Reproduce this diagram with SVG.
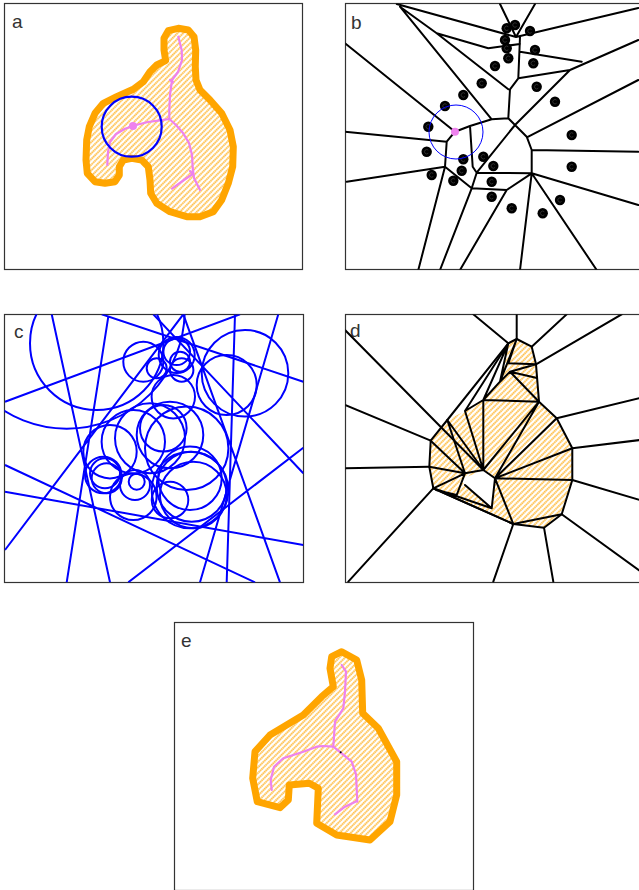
<svg xmlns="http://www.w3.org/2000/svg" xmlns:xlink="http://www.w3.org/1999/xlink" width="639" height="890" viewBox="0 0 639 890">
<style>
.frame{fill:none;stroke:#333;stroke-width:1.2}
.lbl{font-family:"Liberation Sans","DejaVu Sans",sans-serif;font-size:19px;fill:#333}
.blob{fill:url(#hatch);stroke:#FFA500;stroke-width:7;stroke-linejoin:round}
.skel{fill:none;stroke:#EE82EE;stroke-width:2.2;stroke-linejoin:round;stroke-linecap:round}
.blk{fill:none;stroke:#000;stroke-width:2;stroke-linecap:round;stroke-linejoin:round}
.blu{fill:none;stroke:#0000FF;stroke-width:2}
</style>
<defs>
<pattern id="hatch" width="4" height="4" patternUnits="userSpaceOnUse" patternTransform="rotate(45)">
<rect width="4" height="4" fill="#fff"/>
<line x1="1" y1="0" x2="1" y2="4" stroke="#FFA500" stroke-width="1.6" stroke-opacity="0.85" stroke-dasharray="1.4 0.6"/>
</pattern>
<g id="dot"><circle r="5.2" fill="#000"/><path d="M1.6,-1.5 A2.2,2.2 0 1 0 1.6,1.5" fill="none" stroke="#3a3a3a" stroke-width="0.8"/></g>
<clipPath id="cb"><rect x="345.5" y="3.5" width="298" height="266"/></clipPath>
<clipPath id="cc"><rect x="4.5" y="314.5" width="299" height="268"/></clipPath>
<clipPath id="cd"><rect x="345.5" y="314.5" width="298" height="268"/></clipPath>
</defs>
<rect width="639" height="890" fill="#fff"/>

<g id="panel-a">
<rect class="frame" x="4.5" y="3.5" width="298" height="266"/>
<text class="lbl" x="12" y="28">a</text>
<polygon class="blob" points="178.3,28.3 188.3,30 194,36.7 195.7,50 195.3,66.7 196,80 200,90 210,100 221.7,113.3 230,130 233.3,146.7 232.7,166.7 228.3,183.3 221.7,200 213.3,211.7 200,216.7 186.7,216.7 170,211.7 156.7,203.3 150.7,193.3 150,180 148.3,166.7 141.7,160 131.7,158.3 123.3,160 119.3,166.7 119.3,175 115,181.7 105,183.3 95,181.7 87.3,173.3 86,160 86.7,140 89.3,126.7 95,113.3 103.3,103.3 116.7,96.7 133.3,89.3 143.3,81.7 150,71.7 156.7,65 165.7,60.7 164,50 164,38.3 168.3,30.7"/>
<polyline class="skel" points="178.3,36.7 181.7,50 182,60 178,72 172,80 170,95 169.3,110 169.3,119"/>
<polyline class="skel" points="170,80 173,82"/>
<polyline class="skel" points="169.3,119 160,120.3 148,122 136,125 125,128.7 116,134 110,142 108,152 107.3,165"/>
<polyline class="skel" points="169.3,119 176,125 183,133 189,143 192,155 192.7,168 194,178 200,190"/>
<polyline class="skel" points="192.7,174 184,180 172,188.7"/>
<polyline class="skel" points="192.5,174 190,171"/>
<circle cx="133" cy="126" r="4" fill="#EE82EE"/>
<circle cx="131.7" cy="126.7" r="30" fill="none" stroke="#0000FF" stroke-width="2.2"/>
</g>

<g id="panel-b">
<rect class="frame" x="345.5" y="3.5" width="298" height="266"/>
<text class="lbl" x="351" y="29">b</text>
<g id="b-edges" clip-path="url(#cb)">
<path class="blk" d="M396.7,4 L516,37 M400,6.7 L491.7,119.3 M400,6.7 L436.7,33.3 M436.7,33.3 L508.3,89.3 M436.7,33.3 L488.3,48.3 L520,44 M500,4 L516,37 M535,4 L516,37 M516,37 L638.3,8 M520,37 L518.3,78.3 M520,51.7 L581.7,61.7 M570,70 L638.3,40 M570,70 L518.3,78.3 L510,89.3 L508.3,118.3 L491.7,119.3 L470,126 L455,131.7 L446.7,141.7 M345,43.3 L455,131.7 M446.7,141.7 L345,131.7 M446.7,141.7 L445,166.7 L346.7,181.7 M445,166.7 L418.3,270 M445,166.7 L471.7,188.3 L440,270 M471.7,188.3 L476.7,172.7 M471.7,188.3 L506.7,190 M470,126 L472.7,166.7 L476.7,172.7 L515,125 M476.7,172.7 L531.7,173.3 M506.7,190 L531.7,173.3 M506.7,190 L460,270 M508.3,118.3 L515,125 L570,70 M515,125 L526.7,136.7 L531.7,150 L531.7,173.3 M528.3,136.7 L638.3,80 M531.7,150 L638.3,151.7 M531.7,173.3 L638.3,205 M531.7,173.3 L596.7,270 M531.7,173.3 L520,270"/>
</g>
<g id="b-sites">
<use xlink:href="#dot" x="506.7" y="28.3"/><use xlink:href="#dot" x="515" y="25"/><use xlink:href="#dot" x="530" y="31"/><use xlink:href="#dot" x="505" y="40"/><use xlink:href="#dot" x="506.7" y="48.3"/><use xlink:href="#dot" x="508.3" y="58.3"/><use xlink:href="#dot" x="535" y="50"/><use xlink:href="#dot" x="533.3" y="63.3"/><use xlink:href="#dot" x="495" y="66"/><use xlink:href="#dot" x="481.7" y="83.3"/><use xlink:href="#dot" x="536.7" y="86.7"/><use xlink:href="#dot" x="463.3" y="95"/><use xlink:href="#dot" x="555" y="101.7"/><use xlink:href="#dot" x="445" y="106"/><use xlink:href="#dot" x="428.3" y="126.7"/><use xlink:href="#dot" x="571.7" y="135"/><use xlink:href="#dot" x="426.7" y="151.7"/><use xlink:href="#dot" x="463.3" y="159.3"/><use xlink:href="#dot" x="483.3" y="156.7"/><use xlink:href="#dot" x="493.3" y="166"/><use xlink:href="#dot" x="461.7" y="170.7"/><use xlink:href="#dot" x="431.7" y="175"/><use xlink:href="#dot" x="453.3" y="180.7"/><use xlink:href="#dot" x="491.7" y="181.7"/><use xlink:href="#dot" x="571.7" y="166.7"/><use xlink:href="#dot" x="491.7" y="196.7"/><use xlink:href="#dot" x="511.7" y="208.3"/><use xlink:href="#dot" x="560" y="200"/><use xlink:href="#dot" x="542.7" y="213.3"/>
</g>
<circle cx="456" cy="132" r="27" fill="none" stroke="#0000FF" stroke-width="1"/>
<circle cx="455" cy="131.7" r="4" fill="#EE82EE"/>
</g>

<g id="panel-c">
<rect class="frame" x="4.5" y="314.5" width="299" height="268"/>
<text class="lbl" x="14" y="338">c</text>
<g clip-path="url(#cc)">
<path class="blu" d="M5,401.7 L240,314.3 M51.7,314.3 L110,582.3 M108.3,316.7 L66.7,582.3 M101.7,314.3 L303.3,381.7 M5,465 L255,582.3 M5,491.7 L303.3,545 M5,550 L183.3,314.3 M153.3,314.3 L303.3,473.3 M128.3,582.3 L303.3,447.7 M200,582.3 L278.3,314.3 M226.7,582.3 L235,314.3 M280,582.3 L183.3,314.3"/>
<circle class="blu" cx="96.7" cy="343.3" r="66.7"/>
<circle class="blu" cx="66.7" cy="310.7" r="118"/>
<circle class="blu" cx="245" cy="373.3" r="43.3"/>
<circle class="blu" cx="226.7" cy="385" r="30"/>
<circle class="blu" cx="143.3" cy="361.7" r="20"/>
<circle class="blu" cx="176.7" cy="351.7" r="13.3"/>
<circle class="blu" cx="180" cy="361.7" r="10"/>
<circle class="blu" cx="181.7" cy="370" r="11.7"/>
<circle class="blu" cx="156.7" cy="368.3" r="10"/>
<circle class="blu" cx="176.7" cy="355" r="18"/>
<circle class="blu" cx="173.3" cy="396.7" r="21.7"/>
<circle class="blu" cx="110" cy="451.7" r="26.7"/>
<circle class="blu" cx="133.3" cy="441.7" r="31.7"/>
<circle class="blu" cx="150" cy="438.3" r="35"/>
<circle class="blu" cx="170" cy="435" r="33.3"/>
<circle class="blu" cx="186.7" cy="448.3" r="41.7"/>
<circle class="blu" cx="163.3" cy="428.3" r="23.3"/>
<circle class="blu" cx="103.3" cy="475" r="18.3"/>
<circle class="blu" cx="105" cy="473.3" r="15"/>
<circle class="blu" cx="106.7" cy="478.3" r="15"/>
<circle class="blu" cx="135" cy="485" r="15"/>
<circle class="blu" cx="133.3" cy="496.7" r="23.3"/>
<circle class="blu" cx="136.7" cy="481.7" r="8"/>
<circle class="blu" cx="170" cy="500" r="18.3"/>
<circle class="blu" cx="190" cy="490" r="38.3"/>
<circle class="blu" cx="191.7" cy="486.7" r="35"/>
<circle class="blu" cx="190" cy="478.3" r="31.7"/>
<circle class="blu" cx="193.3" cy="495" r="33.3"/>
</g>
</g>

<g id="panel-d">
<rect class="frame" x="345.5" y="314.5" width="298" height="268"/>
<text class="lbl" x="350" y="337">d</text>
<g clip-path="url(#cd)">
<polygon points="516.7,339 531.7,346.7 536,364.3 539,401.7 556.7,418.3 572.3,448.3 572.3,480 561.7,514.3 544,527.7 513.3,524 433.3,488.3 429.3,466.7 430.7,440.7 447.3,420 508.3,343.3" fill="url(#hatch)"/>
<polygon points="508.3,343.3 447.3,420 465,411 483.3,400 500,381.7" fill="#fff"/>
<polygon points="483.3,470 495,478.3 491.7,508.3 470,490 460,480" fill="#fff"/>
<path class="blk" d="M345,330 L483.3,470 M345,405 L430.7,440.7 M345,468.3 L429.3,466.7 M348.3,581.7 L433.3,488.3 M493.3,581.7 L513.3,524 M553.3,581.7 L544,527.7 M640,571 L561.7,514.3 M640,500 L572.3,480 M640,440 L572.3,448.3 M640,398 L556.7,418.3 M621.7,314.3 L536,364.3 M566.7,314.3 L531.7,346.7 M516.7,314.3 L516.7,339 M473.3,314.3 L508.3,343.3"/>
<polygon class="blk" points="516.7,339 531.7,346.7 536,364.3 539,401.7 556.7,418.3 572.3,448.3 572.3,480 561.7,514.3 544,527.7 513.3,524 433.3,488.3 429.3,466.7 430.7,440.7 447.3,420 508.3,343.3"/>
<path class="blk" d="M508.3,343.3 L465,411 M508.3,343.3 L483.3,400 M508.3,343.3 L500,381.7 M516.7,339 L500,381.7 M516.7,339 L508.3,363.3 M508.3,363.3 L536,364.3 M510,371.7 L536,364.3 M510,371.7 L537,378 M500,381.7 L510,371.7 L539,401.7 M500,381.7 L483.3,400 M483.3,400 L539,401.7 M483.3,400 L465,411 M483.3,400 L483.3,470 M465,411 L483.3,470 M447.3,420 L465,473.3 M447.3,420 L483.3,470 M430.7,440.7 L465,473.3 M429.3,466.7 L465,473.3 M433.3,488.3 L465,473.3 L483.3,470 L495,478.3 M483.3,470 L539,401.7 M495,478.3 L539,401.7 M495,478.3 L556.7,418.3 M495,478.3 L572.3,448.3 M495,478.3 L572.3,480 M495,478.3 L513.3,524 M495,478.3 L491.7,508.3 M433.3,488.3 L513.3,524 M433.3,488.3 L491.7,508.3 M436,490 L456.7,495 M465,473.3 L456.7,495 M465,485 L491.7,508.3 M513.3,524 L561.7,514.3"/>
</g>
</g>

<g id="panel-e">
<rect class="frame" x="174.5" y="622.5" width="299" height="268"/>
<text class="lbl" x="181" y="647">e</text>
<polygon class="blob" stroke-linejoin="miter" points="341.7,651.7 356.7,660 361.7,680 362.7,713.3 378.3,728.3 396.7,761.7 396.7,795 390,821.7 370,840 336.7,835 316.7,823.3 318.3,788.3 309.3,783.3 289.3,785 288.3,800 280,807.7 257.3,801.7 252.7,778.3 255,751.7 270,735 303.3,715 321.7,696.7 333.3,686.7 330,668.3 331.7,656.7"/>
<polyline class="skel" points="341.7,665 346,671.7 345,691.7 343.3,708.3 335,721.7 333.3,746.7"/>
<polyline class="skel" points="333.3,746.7 323.3,746 316.7,746.7 303.3,751.7 283.3,758.3 274,766.7 270.7,780 271.7,790"/>
<polyline class="skel" points="333.3,746.7 341.7,753.3 351.7,761.7 356,774.3 357.3,801.7"/>
<polyline class="skel" points="357,801 345,806.7 335,814.3"/>
<circle cx="340.7" cy="752.3" r="1" fill="#000"/>
</g>
</svg>
